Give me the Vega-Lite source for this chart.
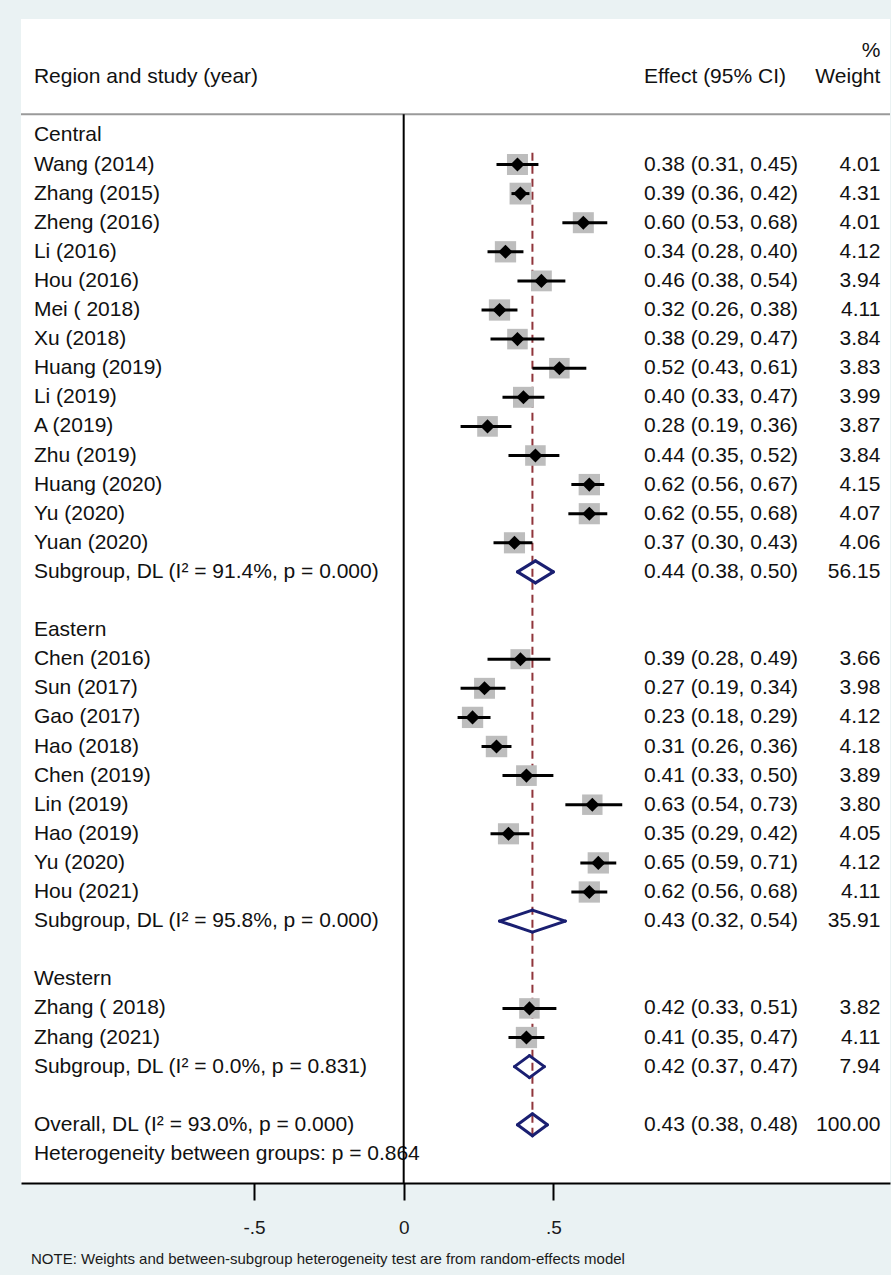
{
  "$schema": "https://vega.github.io/schema/vega-lite/v6.json",
  "width": 869,
  "height": 1164,
  "padding": {"left": 20, "top": 19, "right": 2, "bottom": 8},
  "background": "#eaf2f3",
  "config": {
    "view": {"stroke": null, "fill": "white"},
    "font": "Liberation Sans",
    "axisX": {"domainColor": "#000000", "domainWidth": 2, "tickColor": "#000000", "tickWidth": 2, "tickSize": 17, "labelFontSize": 19, "labelFont": "Liberation Sans", "labelColor": "#1a1a1a", "labelPadding": 18, "grid": false}
  },
  "title": {"text": "NOTE: Weights and between-subgroup heterogeneity test are from random-effects model", "orient": "bottom", "anchor": "start", "frame": "group", "dx": 10, "offset": 15, "fontSize": 15, "fontWeight": "normal", "font": "Liberation Sans", "color": "#1a1a1a"},
  "datasets": {
    "rows": [
      {"row": -1.9, "type": "header", "wt": "%"},
      {"row": -1, "type": "header", "label": "Region and study (year)", "ci": "Effect (95% CI)", "wt": "Weight"},
      {"row": 1, "type": "group", "label": "Central"},
      {"row": 2, "type": "study", "label": "Wang (2014)", "es": 0.38, "lo": 0.31, "hi": 0.45, "w": 4.01, "ci": "0.38 (0.31, 0.45)", "wt": "4.01"},
      {"row": 3, "type": "study", "label": "Zhang (2015)", "es": 0.39, "lo": 0.36, "hi": 0.42, "w": 4.31, "ci": "0.39 (0.36, 0.42)", "wt": "4.31"},
      {"row": 4, "type": "study", "label": "Zheng (2016)", "es": 0.60, "lo": 0.53, "hi": 0.68, "w": 4.01, "ci": "0.60 (0.53, 0.68)", "wt": "4.01"},
      {"row": 5, "type": "study", "label": "Li (2016)", "es": 0.34, "lo": 0.28, "hi": 0.40, "w": 4.12, "ci": "0.34 (0.28, 0.40)", "wt": "4.12"},
      {"row": 6, "type": "study", "label": "Hou (2016)", "es": 0.46, "lo": 0.38, "hi": 0.54, "w": 3.94, "ci": "0.46 (0.38, 0.54)", "wt": "3.94"},
      {"row": 7, "type": "study", "label": "Mei ( 2018)", "es": 0.32, "lo": 0.26, "hi": 0.38, "w": 4.11, "ci": "0.32 (0.26, 0.38)", "wt": "4.11"},
      {"row": 8, "type": "study", "label": "Xu (2018)", "es": 0.38, "lo": 0.29, "hi": 0.47, "w": 3.84, "ci": "0.38 (0.29, 0.47)", "wt": "3.84"},
      {"row": 9, "type": "study", "label": "Huang (2019)", "es": 0.52, "lo": 0.43, "hi": 0.61, "w": 3.83, "ci": "0.52 (0.43, 0.61)", "wt": "3.83"},
      {"row": 10, "type": "study", "label": "Li (2019)", "es": 0.40, "lo": 0.33, "hi": 0.47, "w": 3.99, "ci": "0.40 (0.33, 0.47)", "wt": "3.99"},
      {"row": 11, "type": "study", "label": "A (2019)", "es": 0.28, "lo": 0.19, "hi": 0.36, "w": 3.87, "ci": "0.28 (0.19, 0.36)", "wt": "3.87"},
      {"row": 12, "type": "study", "label": "Zhu (2019)", "es": 0.44, "lo": 0.35, "hi": 0.52, "w": 3.84, "ci": "0.44 (0.35, 0.52)", "wt": "3.84"},
      {"row": 13, "type": "study", "label": "Huang (2020)", "es": 0.62, "lo": 0.56, "hi": 0.67, "w": 4.15, "ci": "0.62 (0.56, 0.67)", "wt": "4.15"},
      {"row": 14, "type": "study", "label": "Yu (2020)", "es": 0.62, "lo": 0.55, "hi": 0.68, "w": 4.07, "ci": "0.62 (0.55, 0.68)", "wt": "4.07"},
      {"row": 15, "type": "study", "label": "Yuan (2020)", "es": 0.37, "lo": 0.30, "hi": 0.43, "w": 4.06, "ci": "0.37 (0.30, 0.43)", "wt": "4.06"},
      {"row": 16, "type": "pooled", "label": "Subgroup, DL (I² = 91.4%, p = 0.000)", "es": 0.44, "lo": 0.38, "hi": 0.50, "w": 56.15, "ci": "0.44 (0.38, 0.50)", "wt": "56.15"},
      {"row": 18, "type": "group", "label": "Eastern"},
      {"row": 19, "type": "study", "label": "Chen (2016)", "es": 0.39, "lo": 0.28, "hi": 0.49, "w": 3.66, "ci": "0.39 (0.28, 0.49)", "wt": "3.66"},
      {"row": 20, "type": "study", "label": "Sun (2017)", "es": 0.27, "lo": 0.19, "hi": 0.34, "w": 3.98, "ci": "0.27 (0.19, 0.34)", "wt": "3.98"},
      {"row": 21, "type": "study", "label": "Gao (2017)", "es": 0.23, "lo": 0.18, "hi": 0.29, "w": 4.12, "ci": "0.23 (0.18, 0.29)", "wt": "4.12"},
      {"row": 22, "type": "study", "label": "Hao (2018)", "es": 0.31, "lo": 0.26, "hi": 0.36, "w": 4.18, "ci": "0.31 (0.26, 0.36)", "wt": "4.18"},
      {"row": 23, "type": "study", "label": "Chen (2019)", "es": 0.41, "lo": 0.33, "hi": 0.50, "w": 3.89, "ci": "0.41 (0.33, 0.50)", "wt": "3.89"},
      {"row": 24, "type": "study", "label": "Lin (2019)", "es": 0.63, "lo": 0.54, "hi": 0.73, "w": 3.80, "ci": "0.63 (0.54, 0.73)", "wt": "3.80"},
      {"row": 25, "type": "study", "label": "Hao (2019)", "es": 0.35, "lo": 0.29, "hi": 0.42, "w": 4.05, "ci": "0.35 (0.29, 0.42)", "wt": "4.05"},
      {"row": 26, "type": "study", "label": "Yu (2020)", "es": 0.65, "lo": 0.59, "hi": 0.71, "w": 4.12, "ci": "0.65 (0.59, 0.71)", "wt": "4.12"},
      {"row": 27, "type": "study", "label": "Hou (2021)", "es": 0.62, "lo": 0.56, "hi": 0.68, "w": 4.11, "ci": "0.62 (0.56, 0.68)", "wt": "4.11"},
      {"row": 28, "type": "pooled", "label": "Subgroup, DL (I² = 95.8%, p = 0.000)", "es": 0.43, "lo": 0.32, "hi": 0.54, "w": 35.91, "ci": "0.43 (0.32, 0.54)", "wt": "35.91"},
      {"row": 30, "type": "group", "label": "Western"},
      {"row": 31, "type": "study", "label": "Zhang ( 2018)", "es": 0.42, "lo": 0.33, "hi": 0.51, "w": 3.82, "ci": "0.42 (0.33, 0.51)", "wt": "3.82"},
      {"row": 32, "type": "study", "label": "Zhang (2021)", "es": 0.41, "lo": 0.35, "hi": 0.47, "w": 4.11, "ci": "0.41 (0.35, 0.47)", "wt": "4.11"},
      {"row": 33, "type": "pooled", "label": "Subgroup, DL (I² = 0.0%, p = 0.831)", "es": 0.42, "lo": 0.37, "hi": 0.47, "w": 7.94, "ci": "0.42 (0.37, 0.47)", "wt": "7.94"},
      {"row": 35, "type": "pooled", "label": "Overall, DL (I² = 93.0%, p = 0.000)", "es": 0.43, "lo": 0.38, "hi": 0.48, "w": 100, "ci": "0.43 (0.38, 0.48)", "wt": "100.00"},
      {"row": 36, "type": "note", "label": "Heterogeneity between groups: p = 0.864"}
    ],
    "one": [{}]
  },
  "layer": [
    {
      "data": {"name": "one"},
      "mark": {"type": "rule", "color": "#90353b", "strokeWidth": 2, "strokeDash": [8, 5]},
      "encoding": {
        "x": {"datum": 0.43, "type": "quantitative", "scale": {"domain": [-1.2782, 1.6243], "nice": false, "zero": false}, "axis": {"values": [-0.5, 0, 0.5], "labelExpr": "datum.value < 0 ? '-.5' : datum.value > 0 ? '.5' : '0'", "title": null}},
        "y": {"datum": 1.6, "type": "quantitative", "scale": {"domain": [-3, 37], "reverse": true, "nice": false, "zero": false}, "axis": null},
        "y2": {"datum": 35.4}
      }
    },
    {
      "data": {"name": "rows"},
      "transform": [{"filter": "datum.type == 'study'"}],
      "mark": {"type": "point", "shape": "square", "filled": true, "color": "#bdbdbd", "opacity": 1},
      "encoding": {
        "x": {"field": "es", "type": "quantitative"},
        "y": {"field": "row", "type": "quantitative", "axis": null},
        "size": {"field": "w", "type": "quantitative", "scale": {"type": "linear", "domain": [0, 5], "range": [0, 550]}, "legend": null}
      }
    },
    {
      "data": {"name": "rows"},
      "transform": [{"filter": "datum.type == 'study'"}],
      "mark": {"type": "rule", "color": "#000000", "strokeWidth": 3},
      "encoding": {
        "x": {"field": "lo", "type": "quantitative"},
        "x2": {"field": "hi"},
        "y": {"field": "row", "type": "quantitative", "axis": null}
      }
    },
    {
      "data": {"name": "rows"},
      "transform": [{"filter": "datum.type == 'study'"}],
      "mark": {"type": "point", "shape": "diamond", "filled": true, "color": "#000000", "opacity": 1, "size": 200},
      "encoding": {
        "x": {"field": "es", "type": "quantitative"},
        "y": {"field": "row", "type": "quantitative", "axis": null}
      }
    },
    {
      "data": {"name": "rows"},
      "transform": [{"filter": "datum.type == 'pooled'"}],
      "mark": {"type": "rule", "color": "#1a1f71", "strokeWidth": 3, "strokeCap": "round", "y2Offset": -11},
      "encoding": {
        "x": {"field": "lo", "type": "quantitative"},
        "x2": {"field": "es"},
        "y": {"field": "row", "type": "quantitative", "axis": null},
        "y2": {"field": "row"}
      }
    },
    {
      "data": {"name": "rows"},
      "transform": [{"filter": "datum.type == 'pooled'"}],
      "mark": {"type": "rule", "color": "#1a1f71", "strokeWidth": 3, "strokeCap": "round", "y2Offset": 11},
      "encoding": {
        "x": {"field": "lo", "type": "quantitative"},
        "x2": {"field": "es"},
        "y": {"field": "row", "type": "quantitative", "axis": null},
        "y2": {"field": "row"}
      }
    },
    {
      "data": {"name": "rows"},
      "transform": [{"filter": "datum.type == 'pooled'"}],
      "mark": {"type": "rule", "color": "#1a1f71", "strokeWidth": 3, "strokeCap": "round", "y2Offset": -11},
      "encoding": {
        "x": {"field": "hi", "type": "quantitative"},
        "x2": {"field": "es"},
        "y": {"field": "row", "type": "quantitative", "axis": null},
        "y2": {"field": "row"}
      }
    },
    {
      "data": {"name": "rows"},
      "transform": [{"filter": "datum.type == 'pooled'"}],
      "mark": {"type": "rule", "color": "#1a1f71", "strokeWidth": 3, "strokeCap": "round", "y2Offset": 11},
      "encoding": {
        "x": {"field": "hi", "type": "quantitative"},
        "x2": {"field": "es"},
        "y": {"field": "row", "type": "quantitative", "axis": null},
        "y2": {"field": "row"}
      }
    },
    {
      "data": {"name": "rows"},
      "transform": [{"filter": "isValid(datum.label)"}],
      "mark": {"type": "text", "align": "left", "baseline": "middle", "fontSize": 21, "font": "Liberation Sans", "color": "#111111"},
      "encoding": {
        "x": {"datum": -1.235, "type": "quantitative"},
        "y": {"field": "row", "type": "quantitative", "axis": null},
        "text": {"field": "label"}
      }
    },
    {
      "data": {"name": "rows"},
      "transform": [{"filter": "isValid(datum.ci)"}],
      "mark": {"type": "text", "align": "left", "baseline": "middle", "fontSize": 21, "font": "Liberation Sans", "color": "#111111"},
      "encoding": {
        "x": {"datum": 0.8026, "type": "quantitative"},
        "y": {"field": "row", "type": "quantitative", "axis": null},
        "text": {"field": "ci"}
      }
    },
    {
      "data": {"name": "rows"},
      "transform": [{"filter": "isValid(datum.wt)"}],
      "mark": {"type": "text", "align": "right", "baseline": "middle", "fontSize": 21, "font": "Liberation Sans", "color": "#111111"},
      "encoding": {
        "x": {"datum": 1.592, "type": "quantitative"},
        "y": {"field": "row", "type": "quantitative", "axis": null},
        "text": {"field": "wt"}
      }
    },
    {
      "data": {"name": "one"},
      "mark": {"type": "rule", "color": "#9a9a9a", "strokeWidth": 2},
      "encoding": {
        "y": {"datum": 0.275, "type": "quantitative", "axis": null}
      }
    },
    {
      "data": {"name": "one"},
      "mark": {"type": "rule", "color": "#000000", "strokeWidth": 2},
      "encoding": {
        "x": {"datum": 0, "type": "quantitative"},
        "y": {"datum": 0.275, "type": "quantitative", "axis": null},
        "y2": {"datum": 37}
      }
    }
  ]
}
